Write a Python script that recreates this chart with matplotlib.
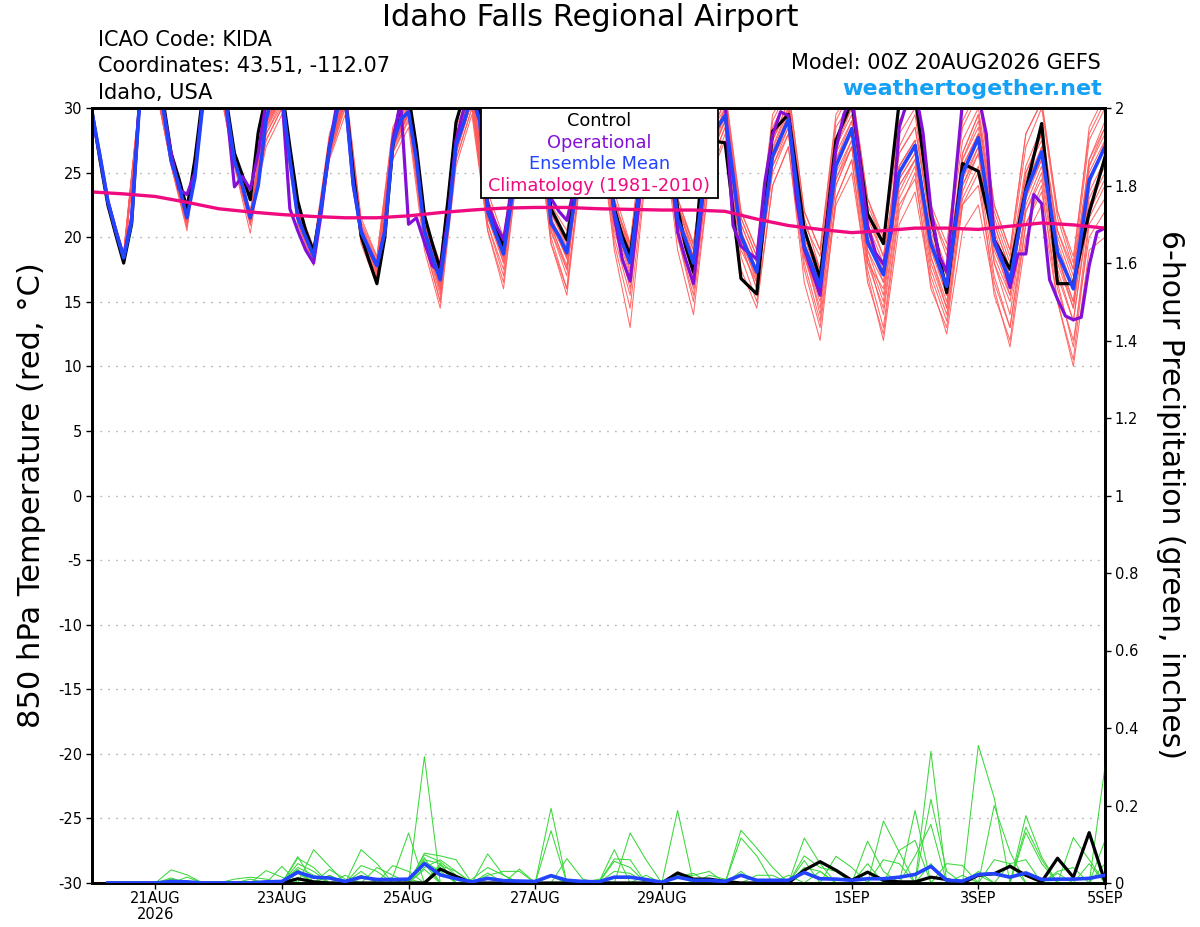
import numpy as np
import matplotlib
matplotlib.use("Agg")
import matplotlib.pyplot as plt
from matplotlib.patches import Rectangle

plt.rcParams['font.family'] = ['DejaVu Sans']
plt.rcParams['axes.unicode_minus'] = False

# ---------------- data ----------------
# x axis: forecast hour from 00Z 20AUG2026
tick_hours = [24, 72, 120, 168, 216, 288, 336, 384]
tick_labels = ["21AUG\n2026", "23AUG", "25AUG", "27AUG", "29AUG", "1SEP", "3SEP", "5SEP"]

# control & ensemble mean: 3-hourly to 240 h, 6-hourly afterwards
hours_ens = list(range(0, 241, 3)) + list(range(246, 385, 6))
control_t = [
    29.8, 26.0, 22.5, 20.2, 18.0, 21.0, 30.5, 32.0,
    32.0, 30.5, 26.5, 24.5, 22.2, 26.0, 31.0, 32.5,
    32.5, 30.5, 26.5, 24.8, 22.9, 28.1, 31.0, 32.0,
    31.5, 27.0, 22.8, 20.5, 18.9, 22.5, 27.0, 30.0,
    31.0, 25.0, 20.1, 18.2, 16.4, 20.0, 27.0, 30.5,
    31.0, 27.0, 21.7, 19.5, 17.5, 23.0, 28.9, 31.0,
    31.5, 29.5, 22.5, 20.8, 19.3, 23.5, 28.5, 31.0,
    31.0, 28.5, 22.2, 21.0, 19.8, 23.5, 28.5, 31.0,
    30.5, 27.5, 22.2, 20.1, 18.6, 23.0, 28.5, 31.0,
    30.5, 27.5, 22.2, 19.3, 17.3, 25.0, 30.5, 27.4,
    27.3,
    16.8, 15.6, 28.2, 29.5, 20.6, 16.8, 27.5, 30.5, 21.8, 19.5, 30.5, 31.0,
    21.7, 15.7, 25.7, 25.1, 19.8, 17.5, 23.7, 28.8, 16.4, 16.4, 21.9, 26.2]
mean_t = [
    29.6, 26.3, 22.8, 20.5, 18.4, 21.2, 30.3, 32.0,
    32.0, 30.0, 25.9, 24.0, 21.5, 24.6, 30.3, 32.5,
    32.5, 30.0, 25.9, 24.0, 21.5, 24.0, 29.1, 31.5,
    31.0, 26.0, 21.5, 20.0, 18.55, 22.5, 26.8, 29.9,
    30.8, 24.2, 20.4, 19.1, 17.8, 20.4, 27.2, 29.1,
    29.7, 26.0, 20.5, 18.5, 16.7, 21.1, 27.1, 28.9,
    31.0, 29.0, 22.0, 20.3, 18.7, 22.9, 28.0, 30.5,
    31.0, 28.0, 21.1, 20.1, 18.8, 22.9, 28.0, 30.5,
    30.5, 27.0, 21.9, 19.6, 18.0, 22.9, 28.0, 30.5,
    30.5, 27.0, 21.4, 19.8, 18.0, 22.7, 26.8, 28.5,
    29.4,
    20.1, 17.3, 26.3, 29.1, 19.3, 16.2, 25.5, 28.4, 19.6, 17.1, 25.0, 27.1,
    19.5, 16.2, 24.9, 27.7, 19.6, 16.6, 23.5, 26.6, 18.8, 16.0, 24.4, 27.0]

# operational: 3-hourly throughout
hours_op = list(range(0, 385, 3))
oper_t = [
    29.5, 26.3, 22.8, 20.5, 18.5, 21.5, 30.5, 32.0,
    32.0, 30.0, 26.5, 23.7, 23.3, 25.0, 30.5, 32.0,
    32.0, 30.0, 23.9, 24.7, 23.7, 26.5, 30.5, 32.0,
    31.0, 22.2, 20.5, 19.0, 18.0, 22.0, 27.0, 30.5,
    31.0, 24.0, 20.5, 19.0, 17.8, 20.5, 27.5, 30.5,
    21.0, 21.5, 19.6, 17.8, 17.3, 21.5, 27.5, 30.0,
    31.0, 29.0, 22.5, 21.0, 19.8, 23.5, 28.0, 30.5,
    31.0, 28.0, 23.0, 22.0, 21.3, 24.0, 28.0, 30.5,
    30.5, 27.0, 21.6, 18.3, 16.6, 22.0, 28.0, 30.5,
    30.5, 26.5, 20.4, 18.3, 16.4, 22.0, 28.5, 30.5,
    30.5, 20.9, 19.3, 18.8, 18.3, 24.2, 27.9, 29.7,
    29.4, 23.0, 19.1, 17.3, 15.5, 21.7, 26.8, 29.5,
    31.0, 26.0, 20.9, 18.8, 17.9, 20.4, 28.5, 30.5,
    31.5, 28.1, 22.2, 18.6, 17.3, 24.0, 30.5, 31.0,
    31.0, 28.0, 19.8, 18.3, 16.1, 18.7, 18.7, 23.3,
    22.6, 16.7, 15.2, 13.9, 13.6, 13.8, 17.8, 20.4,
    20.7]

# climatology (1981-2010), 12-hourly
hours_clim = list(range(0, 385, 12))
clim_t = [23.5, 23.35, 23.15, 22.7, 22.2, 21.95, 21.75, 21.6, 21.5, 21.5, 21.65,
          21.9, 22.1, 22.25, 22.3, 22.3, 22.2, 22.15, 22.1, 22.1, 22.0, 21.4,
          20.9, 20.6, 20.35, 20.5, 20.7, 20.7, 20.6, 20.85, 21.1, 20.95, 20.7]

# ensemble members, 6-hourly (00,06,12,18 per day)
hours_mem = list(range(0, 385, 6))
members_t = [
    [29.5,22.6,18.2,30.2, 32.0,26.0,21.0,30.5, 32.5,26.2,21.2,29.0, 31.2,21.8,18.4,27.0, 31.0,20.6,17.6,27.5, 30.0,20.5,16.5,27.5, 31.5,22.5,19.0,28.5, 31.5,21.5,18.5,28.5, 31.0,22.5,18.0,28.5, 31.0,21.0,17.5,27.0, 30.0,20.0,16.5,27.0, 30.0,19.5,16.0,26.0, 29.0,20.0,16.5,25.5, 27.5,19.0,15.5,25.5, 28.0,19.0,16.0,23.0, 27.0,18.5,15.0,24.0, 27.5],
    [29.3,22.3,17.9,29.8, 31.8,25.5,20.5,29.8, 32.0,25.5,20.3,28.0, 30.5,21.0,17.8,26.0, 29.5,19.5,16.3,26.0, 28.5,19.0,14.5,25.5, 29.5,20.5,16.0,26.5, 29.5,19.5,16.0,26.5, 29.0,19.0,13.0,25.0, 29.0,19.0,14.0,24.5, 27.5,17.5,14.5,24.0, 27.0,16.5,12.0,23.0, 26.0,16.5,12.5,22.0, 25.0,16.0,13.0,22.5, 25.0,15.5,12.0,21.0, 24.0,15.0,10.5,21.0, 23.0],
    [29.8,23.0,18.8,30.8, 32.5,26.5,21.8,31.0, 33.0,26.8,22.0,30.0, 31.8,22.5,19.2,28.0, 31.8,21.5,18.5,28.5, 31.0,21.5,18.0,29.0, 32.0,23.5,20.0,29.5, 32.0,22.5,20.5,29.5, 32.0,23.5,19.5,30.0, 32.0,23.0,19.5,29.0, 31.5,22.0,19.0,29.5, 31.5,22.0,19.0,29.0, 31.5,23.0,20.0,29.0, 31.0,22.0,19.0,28.5, 31.0,22.5,19.0,28.0, 30.5,22.0,18.0,28.5, 31.0],
    [29.6,22.9,18.5,30.4, 32.2,26.3,21.5,30.2, 32.6,26.0,21.6,27.5, 30.0,21.5,18.6,26.5, 30.5,20.2,17.5,27.0, 29.5,20.0,16.0,26.5, 30.5,21.5,18.5,27.5, 31.0,21.0,18.5,28.0, 31.0,21.5,17.5,28.5, 30.5,21.0,17.5,26.0, 29.0,19.5,17.0,26.5, 29.5,18.5,15.5,24.5, 27.0,18.0,16.0,24.0, 26.0,18.5,14.5,23.5, 26.5,18.0,15.0,22.0, 25.0,17.0,13.5,22.5, 25.0],
    [29.4,22.7,18.3,30.0, 31.9,25.8,21.2,30.0, 32.3,25.8,21.4,28.5, 30.8,21.6,18.3,26.8, 30.6,20.4,17.2,27.2, 29.8,20.2,16.0,27.5, 31.0,22.5,19.5,28.5, 31.0,21.0,19.0,28.5, 30.5,22.0,18.0,28.0, 30.5,22.0,18.0,27.0, 29.5,20.5,17.5,26.0, 28.5,19.0,14.0,24.0, 27.0,18.0,14.5,23.5, 26.0,20.0,17.0,26.0, 29.0,21.0,17.5,24.5, 28.0,20.5,17.5,25.5, 28.5],
    [29.7,23.0,18.6,30.6, 32.1,26.0,21.3,30.4, 32.4,26.0,21.6,29.5, 31.0,21.2,18.7,27.0, 30.8,20.6,18.0,27.5, 30.2,21.0,17.0,27.0, 31.0,22.0,18.5,28.0, 31.5,20.5,17.0,27.5, 30.5,22.0,19.0,28.0, 30.5,22.5,19.0,28.0, 30.5,21.5,18.5,27.5, 30.5,20.5,17.5,27.0, 30.0,21.5,18.5,26.5, 28.5,21.0,17.0,26.5, 29.5,21.5,18.0,25.5, 28.5,20.5,17.0,26.0, 29.0],
    [29.5,22.5,18.1,30.3, 32.0,25.6,20.8,30.1, 32.5,25.6,21.0,28.8, 31.0,21.4,18.0,26.5, 30.5,20.0,16.6,26.8, 29.5,19.5,15.0,26.5, 30.5,21.0,17.5,27.0, 30.5,20.5,17.5,27.5, 30.0,20.0,15.5,26.5, 29.5,20.0,15.5,25.5, 28.5,19.5,16.0,25.0, 28.0,18.0,13.5,23.0, 26.0,17.5,13.0,22.5, 24.5,17.0,13.5,23.0, 25.5,17.0,13.0,22.0, 24.5,16.5,11.5,21.5, 24.0],
    [29.6,22.8,18.5,30.4, 32.1,26.1,21.5,30.6, 32.7,26.4,21.8,29.5, 31.3,22.0,18.8,27.5, 31.2,21.0,18.2,28.0, 30.5,21.0,17.5,28.0, 31.5,23.0,19.5,29.0, 31.5,21.5,19.0,29.0, 31.5,23.0,19.0,29.0, 31.5,22.5,18.5,28.0, 30.0,21.0,18.0,27.5, 30.5,21.5,17.5,27.5, 30.0,22.0,18.5,27.0, 29.5,20.5,17.0,26.5, 29.5,21.0,17.5,25.0, 27.5,19.5,16.0,26.0, 28.5],
    [29.4,22.4,18.0,30.0, 31.8,25.7,21.0,29.9, 32.2,25.8,21.2,27.0, 29.5,21.0,18.2,26.2, 30.0,19.8,17.0,26.5, 29.0,19.8,15.5,26.0, 30.0,21.0,17.0,27.0, 30.5,20.0,16.0,26.5, 29.5,20.5,16.5,27.0, 29.5,20.5,16.0,25.5, 28.5,19.0,16.5,25.5, 28.5,18.5,15.0,24.5, 27.5,18.5,14.0,23.0, 25.5,17.5,14.0,22.5, 24.0,16.5,13.0,21.0, 23.5,16.0,12.0,20.0, 22.0],
    [29.7,23.0,18.7,30.7, 32.3,26.4,21.7,30.8, 32.8,26.6,21.9,29.8, 31.6,22.2,19.0,27.8, 31.5,21.2,18.4,28.2, 30.8,21.5,17.5,28.5, 31.5,23.0,19.5,29.0, 31.5,22.0,20.0,29.0, 31.5,22.5,19.5,29.5, 31.5,22.5,19.5,28.5, 31.0,21.5,18.5,28.5, 31.0,21.0,18.5,28.5, 30.5,22.5,19.5,28.0, 30.0,22.0,18.5,27.5, 30.0,22.0,18.5,27.0, 30.0,21.5,17.5,27.5, 30.0],
    [29.5,22.6,18.3,30.1, 32.0,25.9,21.1,30.2, 32.4,25.9,21.3,28.0, 30.2,21.3,18.5,26.8, 30.7,20.3,17.4,27.0, 29.7,20.3,16.3,27.0, 30.8,22.0,18.0,27.8, 30.8,21.0,18.5,28.0, 30.5,21.0,17.0,27.5, 30.0,21.5,17.0,26.5, 29.0,20.0,17.5,26.0, 29.0,19.5,16.0,25.5, 28.0,19.0,16.5,24.0, 26.0,19.5,16.0,24.5, 27.0,19.5,16.5,23.0, 26.0,18.5,14.5,23.5, 26.0],
    [29.6,22.8,18.4,30.3, 32.1,26.2,21.4,30.3, 32.5,26.2,21.5,29.2, 31.1,21.7,18.5,27.0, 30.9,20.5,17.8,27.4, 30.0,20.8,16.8,27.4, 31.2,22.2,18.8,28.2, 31.2,21.2,18.8,28.2, 30.8,22.2,18.5,28.3, 30.8,21.8,18.5,27.2, 29.8,20.3,17.3,26.5, 29.5,19.5,16.5,26.0, 28.5,20.0,17.5,25.5, 27.5,20.0,16.5,25.0, 28.0,20.0,17.0,24.0, 27.0,19.0,16.0,25.0, 27.5],
    [29.5,22.7,18.2,30.2, 31.9,26.0,21.2,30.1, 32.3,25.7,21.1,28.3, 30.7,21.5,18.4,26.6, 30.5,20.1,17.0,27.0, 29.5,20.0,15.8,26.8, 30.5,21.5,18.0,27.5, 30.5,21.0,17.5,27.5, 30.0,21.0,16.0,27.0, 29.5,21.0,17.0,26.0, 29.0,19.5,16.0,25.5, 28.0,18.5,14.5,24.0, 27.0,19.0,15.5,24.5, 26.5,18.5,15.0,24.0, 27.0,18.0,14.0,22.5, 25.5,17.5,13.5,22.0, 24.5],
    [29.6,22.9,18.6,30.5, 32.2,26.3,21.6,30.6, 32.7,26.5,21.7,29.6, 31.5,22.0,18.9,27.5, 31.3,20.9,18.0,27.8, 30.6,21.0,17.2,27.8, 31.5,22.8,19.2,28.8, 31.5,21.8,19.5,28.8, 31.2,22.8,18.8,28.8, 31.2,22.2,19.0,27.8, 30.5,21.0,18.0,27.5, 30.0,20.5,17.5,27.0, 29.5,21.0,18.0,26.5, 28.5,21.0,17.5,26.0, 28.5,20.5,17.0,25.0, 28.0,20.0,16.5,25.5, 28.0],
    [29.7,22.9,18.5,30.5, 32.2,26.2,21.5,30.5, 32.6,26.3,21.7,29.4, 31.4,21.9,18.7,27.3, 31.1,20.7,17.9,27.6, 30.3,20.7,17.0,27.7, 31.3,22.7,19.3,28.7, 31.7,22.0,19.2,28.7, 31.3,22.7,19.3,29.2, 31.7,23.0,19.3,28.8, 31.2,22.0,19.0,29.0, 31.5,22.0,19.0,29.5, 31.5,23.0,19.5,29.0, 31.0,22.5,19.5,29.0, 31.5,22.5,19.0,28.0, 30.5,22.0,18.5,28.0, 30.5],
    [29.4,22.5,18.0,30.0, 31.8,25.6,20.8,29.7, 32.1,25.6,20.9,27.5, 30.0,21.2,17.9,26.2, 30.2,19.8,16.8,26.6, 29.2,19.6,15.0,26.0, 30.0,20.5,16.5,26.5, 30.0,19.5,15.5,26.0, 29.0,19.5,14.5,25.5, 29.0,20.0,15.0,24.5, 28.0,18.5,15.0,24.0, 27.0,17.5,13.0,22.5, 25.0,17.0,12.0,21.0, 23.5,16.5,12.5,20.5, 22.5,16.0,11.5,20.0, 22.5,15.0,10.0,19.0, 20.0],
    [29.6,22.8,18.4,30.4, 32.1,26.1,21.4,30.4, 32.5,26.1,21.5,29.0, 31.1,21.8,18.6,27.2, 31.0,20.5,17.6,27.4, 30.1,20.6,16.6,27.3, 31.1,22.3,18.9,28.3, 31.1,21.3,18.3,28.3, 30.8,22.3,18.3,28.3, 30.9,22.0,18.3,27.3, 29.8,20.5,17.2,26.8, 29.8,20.0,16.5,26.5, 29.0,20.5,17.0,25.5, 27.5,19.5,15.5,25.5, 28.0,19.5,15.5,23.5, 26.5,18.5,15.0,24.5, 27.0],
    [29.5,22.6,18.2,30.2, 32.0,25.8,21.2,30.2, 32.4,25.9,21.2,28.6, 30.8,21.4,18.3,26.7, 30.6,20.2,17.3,27.1, 29.7,20.1,16.2,27.1, 30.8,21.8,18.3,27.8, 30.8,20.8,17.8,27.8, 30.3,21.3,17.3,27.8, 30.3,21.2,17.5,26.6, 29.3,19.8,16.8,26.0, 29.0,19.0,15.5,25.0, 27.5,18.5,15.0,24.5, 26.5,18.0,14.5,24.0, 26.5,18.5,15.5,23.5, 26.0,18.0,14.5,23.0, 25.5],
    [29.6,22.8,18.4,30.3, 32.0,26.0,21.4,30.3, 32.5,26.1,21.5,29.1, 31.0,21.6,18.5,26.9, 30.8,20.4,17.7,27.3, 29.9,20.4,16.6,27.2, 31.0,22.1,18.7,28.1, 31.0,21.1,18.8,28.1, 30.6,21.9,18.1,28.1, 30.6,21.5,18.0,26.9, 29.5,20.1,17.3,26.3, 29.2,19.3,16.2,25.6, 28.5,19.5,17.0,25.0, 27.0,19.5,16.2,25.0, 27.8,19.6,16.6,23.5, 26.5,18.8,16.0,24.4, 27.0],
    [29.5,22.7,18.3,30.2, 32.0,26.0,21.3,30.2, 32.4,26.0,21.4,28.8, 30.9,21.5,18.5,26.8, 30.7,20.3,17.8,27.2, 29.8,20.5,16.7,27.0, 30.9,22.0,18.6,28.0, 30.9,21.0,18.7,28.0, 30.5,21.8,18.0,27.9, 30.5,21.4,18.0,26.8, 29.4,20.0,17.3,26.2, 29.0,19.3,16.3,25.4, 28.4,19.6,17.1,25.0, 27.2,19.5,16.2,24.8, 27.7,19.6,16.6,23.5, 26.6,18.8,16.0,24.3, 27.0],
]

# 6-hour precipitation (inches), periods ending at hour 6*j, j = 1..64
precip_hours = list(range(6, 385, 6))
control_p_nonzero = {13: 0.011, 14: 0.003, 22: 0.036, 23: 0.017, 37: 0.026, 38: 0.01,
                     39: 0.01, 40: 0.004, 45: 0.033, 46: 0.055, 47: 0.033, 48: 0.007,
                     49: 0.028, 50: 0.007, 51: 0.003, 52: 0.003, 53: 0.015, 54: 0.009,
                     56: 0.02, 57: 0.024, 58: 0.043, 59: 0.02, 60: 0.003, 61: 0.064,
                     62: 0.015, 63: 0.13, 64: 0.003}
mean_p_nonzero = {5: 0.004, 6: 0.003, 11: 0.003, 12: 0.004, 13: 0.028, 14: 0.015, 15: 0.013,
                  16: 0.004, 17: 0.015, 18: 0.009, 19: 0.009, 20: 0.01, 21: 0.05, 22: 0.021,
                  23: 0.011, 24: 0.003, 25: 0.012, 26: 0.006, 27: 0.005, 28: 0.004, 29: 0.019,
                  30: 0.007, 31: 0.004, 32: 0.003, 33: 0.015, 34: 0.015, 35: 0.009, 36: 0.002,
                  37: 0.015, 38: 0.007, 39: 0.007, 40: 0.004, 41: 0.02, 42: 0.007, 43: 0.007,
                  44: 0.007, 45: 0.027, 46: 0.011, 47: 0.01, 48: 0.007, 49: 0.011, 50: 0.011,
                  51: 0.015, 52: 0.022, 53: 0.043, 54: 0.007, 55: 0.005, 56: 0.022, 57: 0.024,
                  58: 0.015, 59: 0.026, 60: 0.009, 61: 0.01, 62: 0.01, 63: 0.012, 64: 0.02}
members_p_nonzero = [
    {5: 0.034, 6: 0.021, 13: 0.068, 15: 0.02, 20: 0.01, 33: 0.086, 45: 0.116, 46: 0.05, 57: 0.2, 58: 0.08},
    {5: 0.013, 13: 0.064, 14: 0.04, 21: 0.077, 22: 0.07, 23: 0.06, 41: 0.03, 59: 0.174, 60: 0.067},
    {5: 0.01, 13: 0.05, 14: 0.03, 21: 0.073, 22: 0.055, 23: 0.02, 34: 0.129, 35: 0.06, 53: 0.34},
    {6: 0.015, 13: 0.04, 14: 0.02, 17: 0.03, 29: 0.193, 50: 0.16, 51: 0.08},
    {9: 0.01, 10: 0.015, 11: 0.01, 29: 0.135, 45: 0.07, 46: 0.04, 47: 0.03, 61: 0.03, 62: 0.04},
    {10: 0.01, 13: 0.03, 21: 0.326, 45: 0.058, 58: 0.05, 59: 0.06},
    {11: 0.032, 12: 0.015, 21: 0.06, 22: 0.05, 37: 0.187, 52: 0.187, 64: 0.11},
    {12: 0.043, 25: 0.075, 26: 0.02, 42: 0.02, 43: 0.02, 53: 0.216, 54: 0.03},
    {13: 0.035, 21: 0.05, 30: 0.063, 31: 0.01, 45: 0.04, 46: 0.03, 59: 0.144, 60: 0.06},
    {13: 0.025, 21: 0.04, 22: 0.06, 23: 0.03, 37: 0.02, 38: 0.02, 39: 0.03, 53: 0.05, 64: 0.3},
    {14: 0.086, 15: 0.043, 21: 0.065, 32: 0.01, 44: 0.02, 55: 0.02, 59: 0.13, 60: 0.05},
    {15: 0.035, 16: 0.01, 22: 0.045, 23: 0.03, 37: 0.017, 38: 0.025, 54: 0.05, 55: 0.045},
    {15: 0.02, 21: 0.035, 33: 0.062, 34: 0.06, 47: 0.069, 48: 0.04, 56: 0.02, 63: 0.05},
    {16: 0.02, 21: 0.055, 22: 0.03, 33: 0.056, 34: 0.04, 49: 0.108, 50: 0.03, 61: 0.025},
    {17: 0.086, 18: 0.05, 22: 0.04, 33: 0.03, 34: 0.025, 49: 0.05, 56: 0.03, 64: 0.05},
    {17: 0.045, 18: 0.03, 24: 0.01, 25: 0.04, 26: 0.02, 35: 0.02, 50: 0.06, 51: 0.05, 62: 0.117, 63: 0.06},
    {17: 0.02, 22: 0.05, 25: 0.026, 27: 0.036, 39: 0.02, 40: 0.01, 51: 0.084, 52: 0.11},
    {18: 0.04, 19: 0.02, 25: 0.02, 26: 0.03, 27: 0.03, 41: 0.116, 42: 0.07, 52: 0.07, 53: 0.151},
    {19: 0.045, 20: 0.03, 29: 0.017, 41: 0.136, 42: 0.09, 43: 0.04, 57: 0.06, 58: 0.05},
    {19: 0.015, 20: 0.129, 29: 0.02, 37: 0.02, 46: 0.03, 56: 0.355, 57: 0.22},
]

# legend entries
legend_labels = ["Control", "Operational", "Ensemble Mean", "Climatology (1981-2010)"]

# ---------------- styles ----------------
C_MEMBER = "#ff5a5a"
C_PMEMBER = "#3ad83a"
C_CTRL = "#000000"
C_OPER = "#8410d8"
C_MEAN = "#2244ff"
C_CLIM = "#f00a80"
C_SITE = "#14a0f5"

assert len(control_t) == len(hours_ens) and len(mean_t) == len(hours_ens)
assert len(oper_t) == len(hours_op) and len(clim_t) == len(hours_clim)
for m in members_t:
    assert len(m) == len(hours_mem), len(m)


def dense(nonzero):
    return [nonzero.get(j, 0.0) for j in range(1, 65)]


fig = plt.figure(figsize=(12, 9.27), dpi=100)
L, R, B, T = 92 / 1200, 1105 / 1200, (927 - 883) / 927, (927 - 108) / 927
ax = fig.add_axes([L, B, R - L, T - B])
ax2 = ax.twinx()

for m in members_t:
    ax.plot(hours_mem, m, color=C_MEMBER, lw=0.75, alpha=0.9, zorder=2)
ax.plot(hours_ens, control_t, color=C_CTRL, lw=2.3, zorder=3)
ax.plot(hours_op, oper_t, color=C_OPER, lw=2.3, zorder=4)
ax.plot(hours_ens, mean_t, color=C_MEAN, lw=2.6, zorder=5)
ax.plot(hours_clim, clim_t, color=C_CLIM, lw=2.4, zorder=6)

ax.set_xlim(0, 384)
ax.set_ylim(-30, 30)
ax.set_yticks(range(-30, 31, 5))
ax.tick_params(axis='y', labelsize=10.5, length=4, width=1, direction='out', pad=3)
ax.set_xticks(tick_hours)
ax.set_xticklabels(tick_labels, fontsize=10.5, linespacing=1.05)
ax.tick_params(axis='x', length=4, width=1, direction='out', pad=2)
for y in range(-25, 30, 5):
    ax.axhline(y, color="#b4b4b4", lw=1.0, ls=(0, (1.2, 4.5)), zorder=1)
for s in ax.spines.values():
    s.set_linewidth(2.0)

for p in members_p_nonzero:
    ax2.plot(precip_hours, dense(p), color=C_PMEMBER, lw=0.75, zorder=2)
ax2.plot(precip_hours, dense(control_p_nonzero), color=C_CTRL, lw=2.3, zorder=3)
ax2.plot(precip_hours, dense(mean_p_nonzero), color=C_MEAN, lw=2.6, zorder=4)
ax2.set_ylim(0, 2)
ax2.set_yticks(np.arange(0, 2.01, 0.2))
ax2.set_yticklabels(["0", "0.2", "0.4", "0.6", "0.8", "1", "1.2", "1.4", "1.6", "1.8", "2"])
ax2.tick_params(axis='y', labelsize=10.5, length=4, width=1, direction='out', pad=3)
for s in ax2.spines.values():
    s.set_linewidth(2.0)

# legend box
lx0, lx1 = (481 - 92) / 1013, (718 - 92) / 1013
ly0 = (883 - 198) / 775
ax2.add_patch(Rectangle((lx0, ly0), lx1 - lx0, 1 - ly0, transform=ax2.transAxes,
                        facecolor="white", edgecolor="black", lw=1.3, zorder=10, clip_on=False))
for k, (lab, col) in enumerate(zip(legend_labels, [C_CTRL, C_OPER, C_MEAN, C_CLIM])):
    ypix = 121 + k * 21.7
    ax2.text((lx0 + lx1) / 2, (883 - ypix) / 775, lab, color=col, fontsize=12.8,
             ha="center", va="center", transform=ax2.transAxes, zorder=11)

# titles and annotations
fig.text(590 / 1200, 1 - 18 / 927, "Idaho Falls Regional Airport", fontsize=22,
         ha="center", va="center")
for k, line in enumerate(["ICAO Code: KIDA", "Coordinates: 43.51, -112.07", "Idaho, USA"]):
    fig.text(98 / 1200, 1 - (40 + 26.5 * k) / 927, line, fontsize=15, ha="left", va="center")
fig.text(1101 / 1200, 1 - 63 / 927, "Model: 00Z 20AUG2026 GEFS", fontsize=15,
         ha="right", va="center")
fig.text(1102 / 1200, 1 - 89 / 927, "weathertogether.net", fontsize=16, fontweight="bold",
         color=C_SITE, ha="right", va="center")
fig.text(32 / 1200, 1 - 495 / 927, "850 hPa Temperature (red, °C)", fontsize=22,
         rotation=90, ha="center", va="center")
fig.text(1170 / 1200, 1 - 495 / 927, "6-hour Precipitation (green, inches)", fontsize=21.5,
         rotation=270, ha="center", va="center")

fig.savefig("out.png", dpi=100)
